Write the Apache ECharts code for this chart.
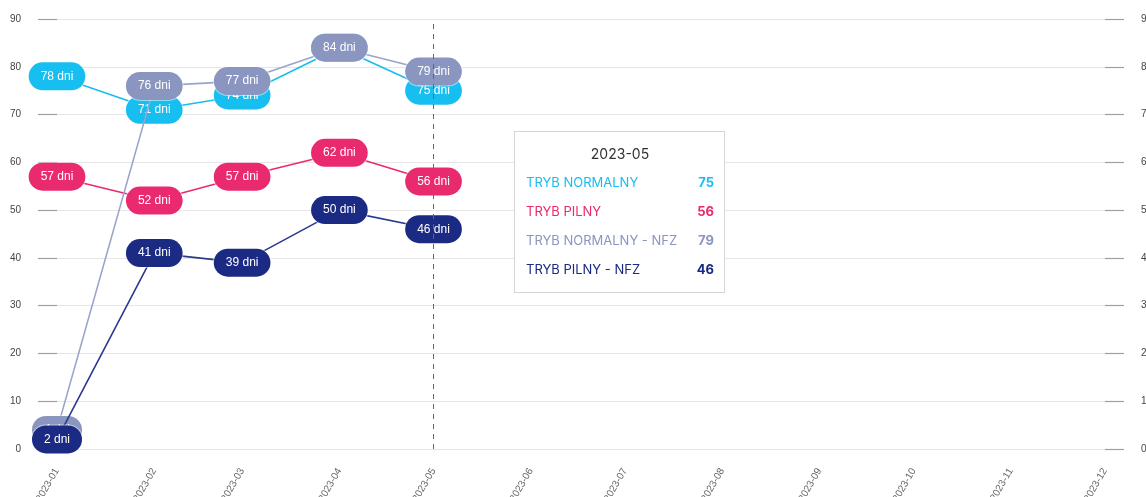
<!DOCTYPE html>
<html>
<head>
<meta charset="utf-8">
<script src="https://cdn.jsdelivr.net/npm/echarts@6/dist/echarts.min.js"></script>
<style>
html,body{margin:0;padding:0;background:#fff;}
#chart{width:1146px;height:497px;}
</style>
</head>
<body>
<div id="chart"></div>
<script>
const categories = ['2023-01','2023-02','2023-03','2023-04','2023-05','2023-06','2023-07','2023-08','2023-09','2023-10','2023-11','2023-12'];
const seriesNames = ['TRYB NORMALNY','TRYB PILNY','TRYB NORMALNY - NFZ','TRYB PILNY - NFZ'];
const trybNormalny = [78, 71, 74, 84, 75, null, null, null, null, null, null, null];
const trybPilny = [57, 52, 57, 62, 56, null, null, null, null, null, null, null];
const trybNormalnyNfz = [4, 76, 77, 84, 79, null, null, null, null, null, null, null];
const trybPilnyNfz = [2, 41, 39, 50, 46, null, null, null, null, null, null, null];
const yTicks = [0, 10, 20, 30, 40, 50, 60, 70, 80, 90];
const colors = ['#17bef0', '#ea2a6e', '#8a95c0', '#1b2a82'];
const lineColors = ['#17bef0', '#ea2a6e', '#9aa3cc', '#2a3a8e'];

// month string -> UTC timestamp of the first day of that month
function monthTs(s) {
  const [y, m] = s.split('-').map(Number);
  return Date.UTC(y, m - 1, 1);
}
function tsLabel(ts) {
  const d = new Date(ts);
  return d.getUTCFullYear() + '-' + String(d.getUTCMonth() + 1).padStart(2, '0');
}
const monthTicks = categories.map(monthTs);

const chart = echarts.init(document.getElementById('chart'), null, {renderer: 'canvas'});

function mkSeries(name, vals, i) {
  return {
    name: name,
    type: 'line',
    data: categories.map((c, k) => [monthTs(c), vals[k]]).filter(d => d[1] !== null),
    symbol: 'circle',
    symbolSize: 2,
    showSymbol: true,
    itemStyle: {color: colors[i]},
    lineStyle: {color: lineColors[i], width: 1.6},
    emphasis: {disabled: true},
    label: {
      show: true,
      position: 'inside',
      formatter: p => p.value[1] + ' dni',
      color: '#fff',
      fontSize: 12,
      fontFamily: 'Liberation Sans, Arial, sans-serif',
      backgroundColor: colors[i],
      borderColor: 'rgba(255,255,255,0.5)',
      borderWidth: 1,
      borderRadius: 15,
      padding: [8, 12, 8, 12]
    },
    z: 2 + i
  };
}

const yAxisCommon = {
  type: 'value',
  min: 0,
  max: 90,
  interval: 10,
  axisLine: {show: false},
  axisTick: {show: true, length: 19, lineStyle: {color: '#a0a0a0', width: 1.2}},
  axisLabel: {margin: 36, color: '#444', fontSize: 10, fontFamily: 'Liberation Sans, Arial, sans-serif',
    formatter: v => yTicks.includes(v) ? String(v) : ''},
  splitLine: {show: true, lineStyle: {color: '#e6e6e6', width: 1}}
};

const data = [trybNormalny, trybPilny, trybNormalnyNfz, trybPilnyNfz];

chart.setOption({
  animation: false,
  useUTC: true,
  grid: {left: 57, right: 41, top: 19, bottom: 48, containLabel: false, outerBoundsMode: 'none'},
  tooltip: {
    trigger: 'axis',
    triggerOn: 'none',
    alwaysShowContent: true,
    transitionDuration: 0,
    position: [514, 131],
    backgroundColor: '#fff',
    borderColor: '#d6d6d6',
    borderWidth: 1,
    padding: 0,
    extraCssText: 'box-shadow:none;border-radius:0;',
    axisPointer: {type: 'line', lineStyle: {color: '#666', type: [5, 5], width: 1}},
    formatter: params => {
      const title = tsLabel(params[0].value[0]);
      let h = '<div style="width:188px;padding:12px 10px 8px 11px;font-family:Inter, Noto Sans, sans-serif;">';
      h += '<div style="text-align:center;font-size:14px;color:#333;line-height:20px;margin-bottom:4px;">' + title + '</div>';
      params.forEach(p => {
        const c = colors[p.seriesIndex];
        h += '<div style="display:flex;justify-content:space-between;font-size:13px;line-height:29px;color:' + c + ';">' +
          '<span>' + p.seriesName + '</span><span style="font-weight:700;">' + p.value[1] + '</span></div>';
      });
      h += '</div>';
      return h;
    }
  },
  xAxis: {
    type: 'value',
    min: monthTicks[0],
    max: monthTicks[monthTicks.length - 1],
    axisLine: {show: false},
    axisTick: {show: false},
    axisLabel: {
      customValues: monthTicks,
      rotate: 60, margin: 20, color: '#666', fontSize: 10,
      fontFamily: 'Liberation Sans, Arial, sans-serif',
      formatter: v => tsLabel(v)
    },
    splitLine: {show: false},
    axisPointer: {label: {show: false}}
  },
  yAxis: [
    Object.assign({}, yAxisCommon, {position: 'left'}),
    Object.assign({}, yAxisCommon, {position: 'right', splitLine: {show: false}})
  ],
  series: seriesNames.map((n, i) => mkSeries(n, data[i], i))
});

chart.dispatchAction({type: 'showTip', seriesIndex: 0, dataIndex: 4});
</script>
</body>
</html>
